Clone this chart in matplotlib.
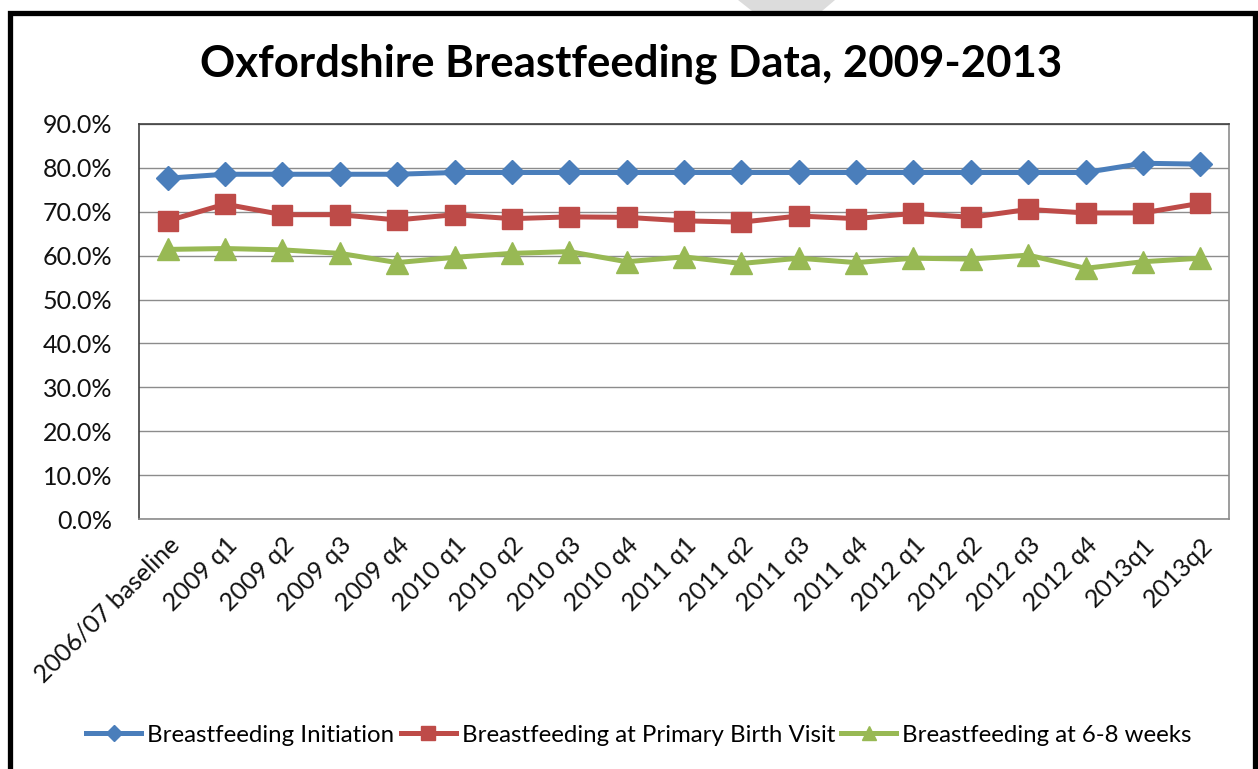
import matplotlib
matplotlib.use("Agg")
import matplotlib.pyplot as plt
from matplotlib.patches import Rectangle, Polygon
from matplotlib.ticker import FuncFormatter, MultipleLocator

categories = ["2006/07 baseline", "2009 q1", "2009 q2", "2009 q3", "2009 q4",
              "2010 q1", "2010 q2", "2010 q3", "2010 q4",
              "2011 q1", "2011 q2", "2011 q3", "2011 q4",
              "2012 q1", "2012 q2", "2012 q3", "2012 q4",
              "2013q1", "2013q2"]

initiation = [77.6, 78.5, 78.5, 78.5, 78.5, 78.9, 78.9, 78.9, 78.9,
              78.9, 78.9, 78.9, 78.9, 78.9, 78.9, 78.9, 78.9, 81.0, 80.8]
primary_visit = [67.9, 71.7, 69.3, 69.3, 68.1, 69.3, 68.4, 68.8, 68.7,
                 67.9, 67.6, 69.0, 68.4, 69.6, 68.7, 70.5, 69.7, 69.7, 71.9]
six_eight_weeks = [61.4, 61.6, 61.3, 60.5, 58.4, 59.6, 60.5, 60.9, 58.6,
                   59.7, 58.2, 59.4, 58.4, 59.4, 59.2, 60.1, 57.1, 58.6, 59.4]

series_names = ["Breastfeeding Initiation",
                "Breastfeeding at Primary Birth Visit",
                "Breastfeeding at 6-8 weeks"]
title = "Oxfordshire Breastfeeding Data, 2009-2013"

plt.rcParams['font.family'] = ['Lato', 'DejaVu Sans']

W, H = 1258, 769
fig = plt.figure(figsize=(W / 100, H / 100), dpi=100)
fig.patch.set_facecolor('white')

# light gray shape at the very top
fig.patches.append(Polygon([(738 / W, 1.0), (835 / W, 1.0), (822 / W, 1 - 11 / H), (752 / W, 1 - 11 / H)],
                           closed=True, transform=fig.transFigure, facecolor='#dcdcdc',
                           edgecolor='none', zorder=0))
# black frame
fig.patches.append(Rectangle((9.5 / W, -0.05), (1254.5 - 9.5) / W, 1.05 - 12.5 / H,
                             transform=fig.transFigure, fill=False, edgecolor='black',
                             linewidth=3.8, zorder=1))

left, right, bottom, top = 139 / W, 1229 / W, 1 - 519.3 / H, 1 - 123.7 / H
ax = fig.add_axes([left, bottom, right - left, top - bottom])

x = list(range(len(categories)))
ax.plot(x, initiation, color='#4A7EBB', lw=3.6, marker='D', ms=12, mec='#4A7EBB',
        label=series_names[0], zorder=5, solid_joinstyle='round')
ax.plot(x, primary_visit, color='#BE4B48', lw=3.6, marker='s', ms=15, mec='#BE4B48',
        label=series_names[1], zorder=4, solid_joinstyle='round')
ax.plot(x, six_eight_weeks, color='#98B954', lw=3.6, marker='^', ms=16, mec='#98B954',
        label=series_names[2], zorder=3, solid_joinstyle='round')

ax.set_xlim(-0.5, len(categories) - 0.5)
ax.set_ylim(0, 90)
ax.yaxis.set_major_locator(MultipleLocator(10))
ax.yaxis.set_major_formatter(FuncFormatter(lambda v, p: f"{v:.1f}%"))
ax.grid(axis='y', color='#8C8C8C', lw=1.0)
ax.set_axisbelow(True)
ax.set_xticks(x)
ax.set_xticklabels(categories, rotation=45, ha='right', va='top', rotation_mode='anchor')
ax.tick_params(axis='both', length=0, labelsize=18, colors='#111111')
ax.tick_params(axis='x', pad=10)
ax.tick_params(axis='y', pad=19)
for s in ['left', 'top']:
    ax.spines[s].set_color('#404040')
    ax.spines[s].set_linewidth(1.2)
for s in ['right', 'bottom']:
    ax.spines[s].set_color('#8C8C8C')
    ax.spines[s].set_linewidth(1.2)

fig.text(0.502, 1 - 64 / H, title, ha='center', va='center', fontsize=31.5, fontweight='bold')

fig.legend(loc='center', bbox_to_anchor=(0.508, 1 - 735 / H), ncol=3, frameon=False,
           fontsize=17.3, handlelength=2.3, handletextpad=0.25, columnspacing=0.25,
           markerscale=0.65)

fig.savefig("out.png", dpi=100)
